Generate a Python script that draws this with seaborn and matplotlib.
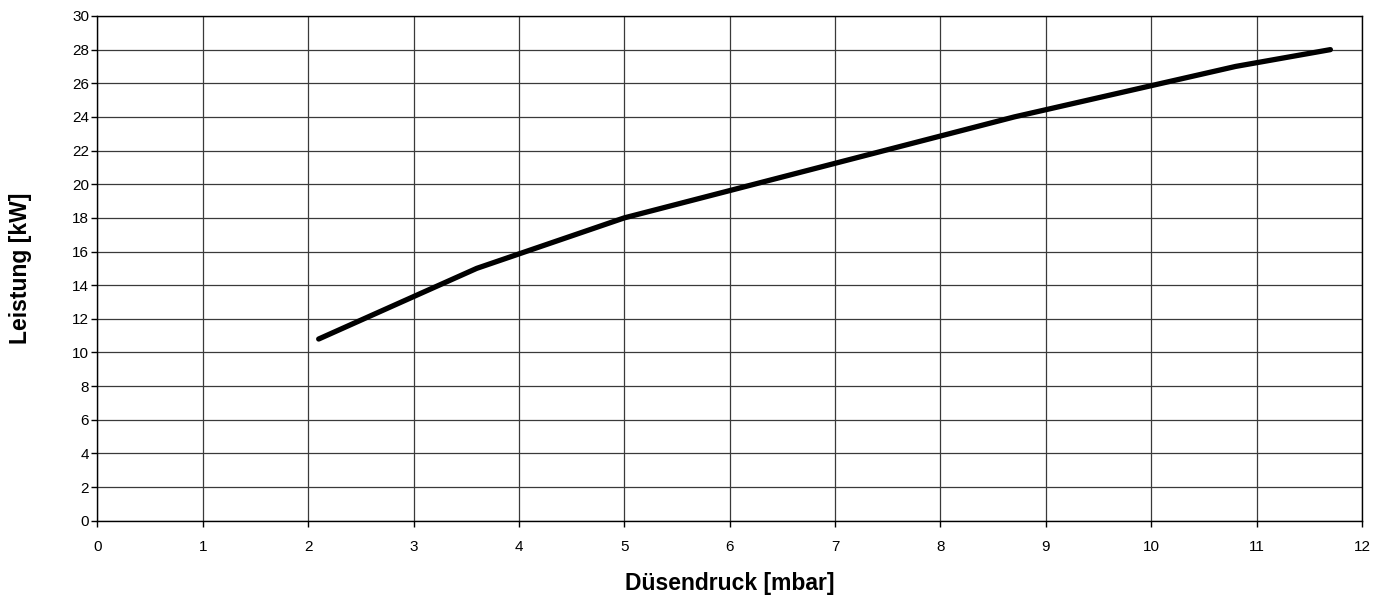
import matplotlib
matplotlib.use("Agg")
import matplotlib.pyplot as plt
import seaborn as sns
import pandas as pd

# Nozzle pressure [mbar] vs. heat output [kW]
duesendruck = [2.1, 3.6, 5.0, 8.7, 10.8, 11.7]
leistung = [10.8, 15.0, 18.0, 24.0, 27.0, 28.0]
x_ticks = list(range(0, 13))
y_ticks = list(range(0, 31, 2))

df = pd.DataFrame({"Düsendruck": duesendruck, "Leistung": leistung})

sns.set_theme(style="white")
plt.rcParams["font.family"] = ["Liberation Sans", "DejaVu Sans"]
plt.rcParams["text.color"] = "black"
plt.rcParams["axes.labelcolor"] = "black"

fig = plt.figure(figsize=(13.85, 5.96), dpi=100)
ax = fig.add_axes([0.0703, 0.1263, 0.9131, 0.8469])

sns.lineplot(data=df, x="Düsendruck", y="Leistung", ax=ax, color="black",
             linewidth=3.8, solid_capstyle="round", solid_joinstyle="round",
             sort=False, estimator=None)

ax.set_xlim(0, 12)
ax.set_ylim(0, 30)
ax.set_xticks(x_ticks)
ax.set_yticks(y_ticks)
ax.set_xticklabels([str(v) for v in x_ticks], fontsize=11)
ax.set_yticklabels([str(v) for v in y_ticks], fontsize=11)
ax.grid(True, color="#3a3a3a", linewidth=0.9)
ax.set_axisbelow(True)
for side in ["left", "bottom", "top", "right"]:
    ax.spines[side].set_color("black")
    ax.spines[side].set_linewidth(1.0)
ax.tick_params(axis="both", direction="out", length=4, width=1, color="black",
               labelcolor="black", pad=10, bottom=True, left=True)
ax.tick_params(axis="y", pad=2)

ax.set_xlabel("Düsendruck [mbar]", fontsize=16.5, fontweight="bold")
ax.xaxis.set_label_coords(0.5, -0.125)
ax.xaxis.label.set_verticalalignment("center")
ax.set_ylabel("Leistung [kW]", fontsize=16.5, fontweight="bold")
ax.yaxis.set_label_coords(-0.061, 0.5)
ax.yaxis.label.set_verticalalignment("center")

fig.savefig("out.png", dpi=100)
